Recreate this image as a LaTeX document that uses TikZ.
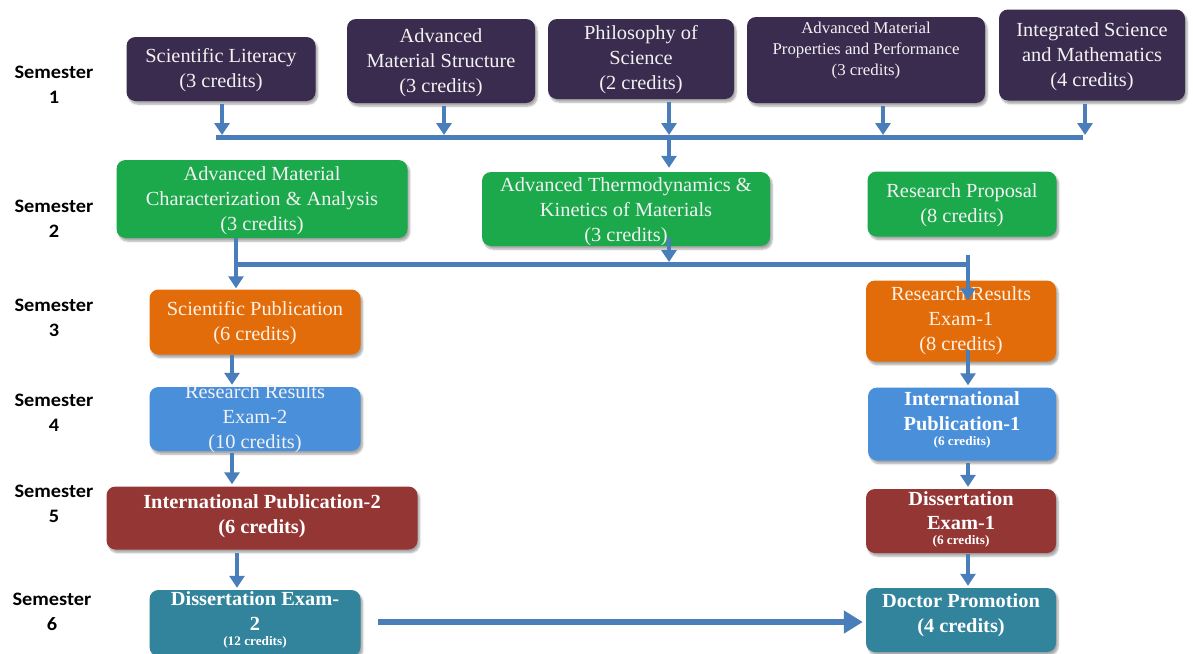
\documentclass[tikz,border=0pt]{standalone}
\usepackage{fontspec}
\setmainfont{Liberation Serif}[FakeStretch=1.02]
\newfontfamily\semfont{Carlito}[FakeStretch=1.07]
\usetikzlibrary{arrows.meta,shadows.blur}

\definecolor{cpurple}{HTML}{3A2C4F}
\definecolor{cgreen}{HTML}{1BA94C}
\definecolor{corange}{HTML}{E36C0A}
\definecolor{cblue}{HTML}{4A8FD9}
\definecolor{cred}{HTML}{943634}
\definecolor{cteal}{HTML}{31849B}
\definecolor{cline}{HTML}{4A7EBB}

\tikzset{
  box/.style={draw=none, rounded corners=9pt, inner sep=0pt,
    blur shadow={shadow xshift=2pt, shadow yshift=-3pt, shadow opacity=35, shadow blur steps=6}},
  txt/.style={align=center, inner sep=0pt, text=white!95!black, font=\fontsize{20}{25}\selectfont},
  btxt/.style={txt, text=white, font=\fontsize{20}{24.5}\selectfont\bfseries},
  semlabel/.style={align=center, inner sep=0pt, font=\semfont\bfseries\fontsize{19}{25}\selectfont},
  bus/.style={draw=cline, line width=5pt},
  arr/.style={draw=cline, line width=4pt, -{Triangle[width=15pt,length=12pt]}},
  bigarr/.style={draw=cline, line width=6pt, -{Triangle[width=22pt,length=19pt]}},
}

\begin{document}
\begin{tikzpicture}[x=1pt, y=-1pt]
\useasboundingbox (0,0) rectangle (1193,653);

% semester labels
\node[semlabel] (s1) at (54,85)  {Semester\\1};
\node[semlabel] (s2) at (54,219) {Semester\\2};
\node[semlabel] (s3) at (54,318) {Semester\\3};
\node[semlabel] (s4) at (54,413) {Semester\\4};
\node[semlabel] (s5) at (54,504) {Semester\\5};
\node[semlabel] (s6) at (52,612) {Semester\\6};

% semester 1 courses
\node[box, fill=cpurple, minimum width=189pt, minimum height=64pt] (sl) at (221,69) {};
\node[txt] (sl-t) at (221,70) {Scientific Literacy\\(3 credits)};
\node[box, fill=cpurple, minimum width=188pt, minimum height=84pt] (ams) at (441,61) {};
\node[txt] (ams-t) at (441,63) {Advanced\\Material Structure\\(3 credits)};
\node[box, fill=cpurple, minimum width=186pt, minimum height=80pt] (phil) at (641,59) {};
\node[txt] (phil-t) at (641,60) {Philosophy of\\Science\\(2 credits)};
\node[box, fill=cpurple, minimum width=238pt, minimum height=86pt] (ampp) at (866,60) {};
\node[txt, font=\fontsize{16.5}{21}\selectfont] (ampp-t) at (866,51) {Advanced Material\\Properties and Performance\\(3 credits)};
\node[box, fill=cpurple, minimum width=186pt, minimum height=91pt] (ism) at (1092,55) {};
\node[txt] (ism-t) at (1092,57) {Integrated Science\\and Mathematics\\(4 credits)};

% semester 2 courses
\node[box, fill=cgreen, minimum width=291pt, minimum height=78pt] (amca) at (262,199) {};
\node[txt] (amca-t) at (262,201) {Advanced Material\\Characterization \& Analysis\\(3 credits)};
\node[box, fill=cgreen, minimum width=288pt, minimum height=74pt] (thermo) at (626,209) {};
\node[txt] (thermo-t) at (626,212) {Advanced Thermodynamics \&\\Kinetics of Materials\\(3 credits)};
\node[box, fill=cgreen, minimum width=189pt, minimum height=65pt] (rp) at (962,204) {};
\node[txt] (rp-t) at (962,205) {Research Proposal\\(8 credits)};

% semester 3
\node[box, fill=corange, minimum width=211pt, minimum height=65pt] (sp) at (255,322) {};
\node[txt, text=orange!10] (sp-t) at (255,323) {Scientific Publication\\(6 credits)};
\node[box, fill=corange, minimum width=190pt, minimum height=81pt] (rre1) at (961,321) {};
\node[txt, text=orange!10] (rre1-t) at (961,321) {Research Results\\Exam-1\\(8 credits)};

% semester 4
\node[box, fill=cblue, minimum width=211pt, minimum height=64pt] (rre2) at (255,419) {};
\node[txt] (rre2-t) at (255,419) {Research Results\\Exam-2\\(10 credits)};
\node[box, fill=cblue, minimum width=188pt, minimum height=73pt] (ip1) at (962,424) {};
\node[btxt] (ip1-t) at (962,420) {International\\Publication-1\\[-9pt]{\fontsize{13}{13}\selectfont(6 credits)}};

% semester 5
\node[box, fill=cred, minimum width=311pt, minimum height=63pt] (ip2) at (262,518) {};
\node[btxt] (ip2-t) at (262,516) {International Publication-2\\(6 credits)};
\node[box, fill=cred, minimum width=190pt, minimum height=64pt] (de1) at (961,521) {};
\node[btxt] (de1-t) at (961,519) {Dissertation\\Exam-1\\[-10pt]{\fontsize{13}{13}\selectfont(6 credits)}};

% semester 6
\node[box, fill=cteal, minimum width=211pt, minimum height=66pt] (de2) at (255,623) {};
\node[btxt] (de2-t) at (255,620) {Dissertation Exam-\\2\\[-9pt]{\fontsize{13}{13}\selectfont(12 credits)}};
\node[box, fill=cteal, minimum width=190pt, minimum height=64pt] (dp) at (961,620) {};
\node[btxt] (dp-t) at (961,615) {Doctor Promotion\\(4 credits)};

% junction lines
\coordinate (b1w) at (216,137);
\coordinate (b1e) at (1083,137);
\coordinate (b2w) at (236,264);
\coordinate (b2e) at (968,264);
\coordinate (xa) at (222,0);
\coordinate (xb) at (444,0);
\coordinate (xc) at (669,0);
\coordinate (xd) at (883,0);
\coordinate (xe) at (1085,0);
\coordinate (xl) at (232,0);
\coordinate (xm) at (237,0);
\coordinate (yf) at (0,622);

\draw[bus] (b1w) -- (b1e);
\draw[bus] (b2w) -- (b2e);

% semester 1 into the first junction
\draw[arr] ([yshift=-3pt]sl.south -| xa) -- ([yshift=2pt]xa |- b1w);
\draw[arr] ([yshift=-3pt]ams.south -| xb) -- ([yshift=2pt]xb |- b1w);
\draw[arr] ([yshift=-3pt]phil.south -| xc) -- ([yshift=2pt]xc |- b1w);
\draw[arr] ([yshift=-3pt]ampp.south -| xd) -- ([yshift=2pt]xd |- b1w);
\draw[arr] ([yshift=-3pt]ism.south -| xe) -- ([yshift=2pt]xe |- b1w);
\draw[arr] (xc |- b1w) -- ([yshift=4pt]thermo.north -| xc);

% semester 2 into semester 3
\draw[arr] ([yshift=8pt]thermo.south -| xc) -- ([yshift=2pt]xc |- b2w);
\draw[arr] (amca.south -| b2w) -- ([yshift=1pt]sp.north -| b2w);
\draw[arr] ([yshift=-18pt]rp.south -| b2e) -- ([yshift=-20pt]rre1.north -| b2e);

% vertical chains
\draw[arr] (sp.south -| xl) -- ([yshift=2pt]rre2.north -| xl);
\draw[arr] ([yshift=12pt]rre1.south -| b2e) -- ([yshift=2pt]ip1.north -| b2e);
\draw[arr] ([yshift=-2pt]rre2.south -| xl) -- ([yshift=2pt]ip2.north -| xl);
\draw[arr] ([yshift=-2pt]ip1.south -| b2e) -- ([yshift=2pt]de1.north -| b2e);
\draw[arr] ([yshift=-3pt]ip2.south -| xm) -- ([yshift=2pt]de2.north -| xm);
\draw[arr] ([yshift=-1pt]de1.south -| b2e) -- ([yshift=2pt]dp.north -| b2e);

% final step
\draw[bigarr] ([xshift=17pt]de2.east |- yf) -- ([xshift=-3pt]dp.west |- yf);
\end{tikzpicture}
\end{document}
